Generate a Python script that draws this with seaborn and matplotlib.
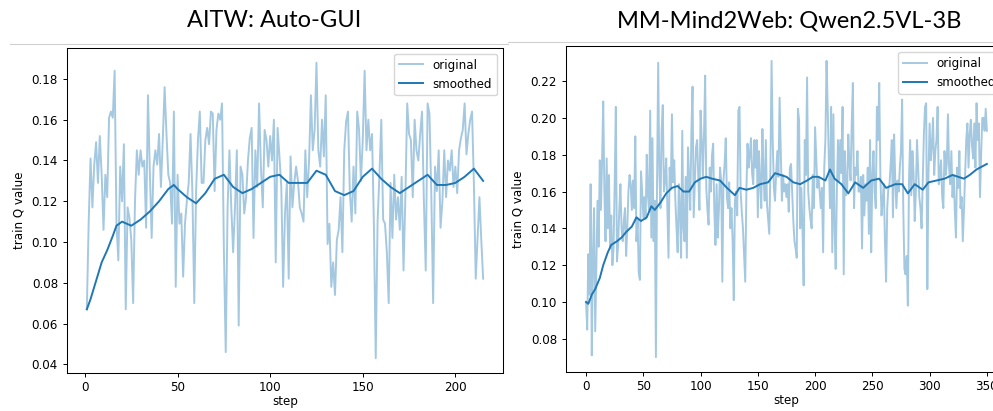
import seaborn as sns
import pandas as pd
import numpy as np
import matplotlib
matplotlib.use("Agg")
from matplotlib import pyplot as plt
from matplotlib.lines import Line2D

# AITW: Auto-GUI, steps 1..215
aitw_original = [
    0.067, 0.110, 0.141, 0.117, 0.138, 0.149, 0.129, 0.152, 0.133, 0.106,
    0.133, 0.122, 0.161, 0.164, 0.161, 0.184, 0.109, 0.091, 0.137, 0.120,
    0.148, 0.067, 0.117, 0.112, 0.101, 0.070, 0.120, 0.145, 0.133, 0.145,
    0.137, 0.140, 0.107, 0.172, 0.135, 0.102, 0.137, 0.145, 0.138, 0.153,
    0.127, 0.150, 0.176, 0.153, 0.133, 0.129, 0.109, 0.164, 0.078, 0.133,
    0.109, 0.114, 0.083, 0.109, 0.120, 0.129, 0.153, 0.124, 0.070, 0.125,
    0.150, 0.164, 0.129, 0.129, 0.150, 0.156, 0.148, 0.164, 0.163, 0.125,
    0.155, 0.163, 0.160, 0.168, 0.096, 0.046, 0.117, 0.145, 0.117, 0.095,
    0.117, 0.145, 0.059, 0.137, 0.133, 0.114, 0.122, 0.140, 0.151, 0.156,
    0.102, 0.145, 0.127, 0.168, 0.137, 0.117, 0.155, 0.150, 0.137, 0.152,
    0.140, 0.160, 0.090, 0.156, 0.142, 0.127, 0.078, 0.114, 0.129, 0.082,
    0.142, 0.117, 0.129, 0.137, 0.130, 0.117, 0.114, 0.110, 0.145, 0.122,
    0.140, 0.172, 0.145, 0.155, 0.188, 0.145, 0.137, 0.160, 0.142, 0.172,
    0.099, 0.109, 0.078, 0.090, 0.074, 0.101, 0.106, 0.122, 0.095, 0.145,
    0.159, 0.164, 0.125, 0.110, 0.137, 0.114, 0.164, 0.155, 0.130, 0.150,
    0.184, 0.145, 0.160, 0.145, 0.153, 0.109, 0.043, 0.110, 0.133, 0.160,
    0.111, 0.109, 0.095, 0.070, 0.129, 0.102, 0.133, 0.111, 0.122, 0.106,
    0.132, 0.086, 0.122, 0.168, 0.153, 0.150, 0.122, 0.160, 0.145, 0.140,
    0.153, 0.164, 0.120, 0.086, 0.168, 0.163, 0.124, 0.070, 0.137, 0.125,
    0.145, 0.107, 0.120, 0.145, 0.122, 0.140, 0.135, 0.145, 0.127, 0.137,
    0.124, 0.145, 0.151, 0.155, 0.168, 0.143, 0.153, 0.160, 0.164, 0.129,
    0.082, 0.102, 0.122, 0.101, 0.082,
]
aitw_smooth_steps = [1, 3, 5, 7, 9, 12, 15, 17, 20, 25, 30, 35, 40, 45, 48, 50,
                     55, 60, 65, 70, 75, 80, 85, 90, 95, 100, 105, 110, 115,
                     120, 125, 130, 135, 140, 145, 150, 155, 160, 165, 170,
                     175, 180, 185, 190, 195, 200, 205, 210, 215]
aitw_smoothed = [0.067, 0.072, 0.078, 0.084, 0.090, 0.096, 0.103, 0.108, 0.110,
                 0.108, 0.111, 0.115, 0.120, 0.126, 0.128, 0.126, 0.122, 0.119,
                 0.124, 0.131, 0.133, 0.127, 0.124, 0.126, 0.129, 0.132, 0.133,
                 0.129, 0.129, 0.129, 0.135, 0.133, 0.125, 0.123, 0.125, 0.132,
                 0.136, 0.131, 0.127, 0.124, 0.127, 0.130, 0.133, 0.128, 0.128,
                 0.129, 0.132, 0.136, 0.130]

# MM-Mind2Web: Qwen2.5VL-3B, steps 0..350
m2w_original = [
    0.100, 0.085, 0.126, 0.104, 0.164, 0.071, 0.126, 0.151, 0.084, 0.120,
    0.155, 0.130, 0.177, 0.150, 0.177, 0.209, 0.160, 0.133, 0.178, 0.140,
    0.169, 0.129, 0.147, 0.120, 0.129, 0.164, 0.206, 0.122, 0.131, 0.150,
    0.164, 0.140, 0.133, 0.144, 0.151, 0.125, 0.140, 0.160, 0.169, 0.164,
    0.150, 0.166, 0.151, 0.190, 0.133, 0.145, 0.116, 0.112, 0.171, 0.160,
    0.146, 0.157, 0.145, 0.180, 0.158, 0.150, 0.204, 0.135, 0.189, 0.133,
    0.155, 0.070, 0.166, 0.230, 0.170, 0.151, 0.193, 0.207, 0.160, 0.166,
    0.178, 0.150, 0.124, 0.173, 0.162, 0.202, 0.165, 0.177, 0.155, 0.140,
    0.127, 0.164, 0.150, 0.124, 0.193, 0.140, 0.133, 0.168, 0.124, 0.184,
    0.166, 0.150, 0.193, 0.217, 0.146, 0.165, 0.184, 0.188, 0.168, 0.150,
    0.204, 0.188, 0.168, 0.191, 0.223, 0.162, 0.150, 0.142, 0.173, 0.160,
    0.180, 0.186, 0.150, 0.131, 0.164, 0.135, 0.150, 0.173, 0.166, 0.111,
    0.166, 0.175, 0.189, 0.157, 0.151, 0.165, 0.140, 0.151, 0.133, 0.101,
    0.155, 0.160, 0.147, 0.204, 0.206, 0.160, 0.149, 0.140, 0.125, 0.111,
    0.160, 0.186, 0.173, 0.180, 0.189, 0.170, 0.164, 0.188, 0.173, 0.188,
    0.146, 0.182, 0.165, 0.151, 0.194, 0.169, 0.155, 0.188, 0.153, 0.145,
    0.137, 0.173, 0.231, 0.188, 0.162, 0.155, 0.170, 0.182, 0.168, 0.211,
    0.182, 0.155, 0.169, 0.160, 0.164, 0.157, 0.164, 0.149, 0.173, 0.175,
    0.160, 0.144, 0.133, 0.129, 0.124, 0.205, 0.199, 0.140, 0.162, 0.140,
    0.109, 0.188, 0.169, 0.222, 0.160, 0.151, 0.145, 0.140, 0.169, 0.151,
    0.195, 0.178, 0.162, 0.168, 0.160, 0.151, 0.162, 0.127, 0.173, 0.188,
    0.231, 0.206, 0.177, 0.151, 0.206, 0.127, 0.202, 0.140, 0.118, 0.160,
    0.188, 0.166, 0.188, 0.170, 0.206, 0.115, 0.182, 0.158, 0.160, 0.191,
    0.175, 0.166, 0.197, 0.219, 0.151, 0.173, 0.169, 0.182, 0.160, 0.160,
    0.168, 0.129, 0.169, 0.147, 0.164, 0.155, 0.173, 0.137, 0.188, 0.127,
    0.169, 0.182, 0.160, 0.151, 0.206, 0.188, 0.219, 0.169, 0.147, 0.155,
    0.164, 0.133, 0.111, 0.151, 0.162, 0.164, 0.175, 0.188, 0.146, 0.191,
    0.166, 0.151, 0.166, 0.160, 0.173, 0.182, 0.210, 0.151, 0.118, 0.115,
    0.125, 0.098, 0.166, 0.188, 0.158, 0.182, 0.170, 0.144, 0.160, 0.188,
    0.173, 0.157, 0.151, 0.140, 0.165, 0.191, 0.206, 0.208, 0.107, 0.169,
    0.197, 0.177, 0.185, 0.200, 0.169, 0.182, 0.188, 0.206, 0.164, 0.170,
    0.177, 0.157, 0.151, 0.182, 0.169, 0.175, 0.202, 0.173, 0.164, 0.182,
    0.157, 0.169, 0.150, 0.135, 0.173, 0.162, 0.182, 0.151, 0.157, 0.133,
    0.150, 0.169, 0.188, 0.197, 0.173, 0.191, 0.199, 0.185, 0.178, 0.197,
    0.173, 0.208, 0.188, 0.197, 0.157, 0.180, 0.200, 0.200, 0.193, 0.205,
    0.193,
]
m2w_smooth_steps = [0, 2, 5, 8, 12, 15, 19, 22, 27, 31, 35, 40, 44, 48, 53, 57,
                    60, 65, 70, 75, 80, 85, 90, 95, 100, 105, 110, 117, 123,
                    130, 134, 140, 146, 152, 159, 165, 170, 175, 181, 187, 193,
                    198, 203, 209, 213, 217, 223, 229, 235, 242, 249, 256, 262,
                    270, 276, 281, 287, 294, 299, 306, 313, 320, 325, 330, 335,
                    341, 350]
m2w_smoothed = [0.100, 0.099, 0.104, 0.107, 0.113, 0.120, 0.127, 0.131, 0.133,
                0.135, 0.138, 0.141, 0.146, 0.144, 0.146, 0.152, 0.150, 0.154,
                0.159, 0.162, 0.163, 0.160, 0.160, 0.165, 0.167, 0.168, 0.167,
                0.166, 0.162, 0.158, 0.162, 0.161, 0.162, 0.164, 0.165, 0.170,
                0.169, 0.168, 0.165, 0.164, 0.166, 0.168, 0.168, 0.166, 0.172,
                0.167, 0.164, 0.159, 0.165, 0.162, 0.166, 0.167, 0.162, 0.164,
                0.164, 0.159, 0.164, 0.161, 0.165, 0.166, 0.167, 0.169, 0.168,
                0.167, 0.169, 0.172, 0.175]

titles = ["AITW: Auto-GUI", "MM-Mind2Web: Qwen2.5VL-3B"]

fs = 8.6
plt.rcParams.update({
    "font.size": fs,
    "axes.linewidth": 0.75,
    "xtick.major.size": 3,
    "ytick.major.size": 3,
    "xtick.major.width": 0.7,
    "ytick.major.width": 0.7,
    "xtick.major.pad": 3,
    "legend.fontsize": fs,
})

fig = plt.figure(figsize=(9.93, 4.11), dpi=100)
ax1 = fig.add_axes([0.0675, 0.0925, 0.439, 0.791])
ax2 = fig.add_axes([0.570, 0.0949, 0.444, 0.793])

panels = [
    (ax1, np.arange(1, len(aitw_original) + 1), aitw_original, aitw_smooth_steps, aitw_smoothed),
    (ax2, np.arange(len(m2w_original)), m2w_original, m2w_smooth_steps, m2w_smoothed),
]

for ax, steps, orig, s_steps, smooth in panels:
    df_o = pd.DataFrame({"step": steps, "value": orig})
    df_s = pd.DataFrame({"step": s_steps, "value": smooth})
    sns.lineplot(data=df_o, x="step", y="value", ax=ax, color="#1f77b4",
                 alpha=0.4, lw=1.4, label="original")
    sns.lineplot(data=df_s, x="step", y="value", ax=ax, color="#1f77b4",
                 lw=1.4, label="smoothed")
    ax.set_xlabel("step", labelpad=0.5)
    ax.set_ylabel("train Q value")
    ax.legend(loc="upper right")

ax1.set_xticks([0, 50, 100, 150, 200])
ax2.set_xticks([0, 50, 100, 150, 200, 250, 300, 350])

# panel titles, drawn above the screenshots
fig.text(0.276, 0.95, titles[0], ha="center", va="center", fontsize=17,
         family="Lato")
fig.text(0.795, 0.95, titles[1], ha="center", va="center", fontsize=17,
         family="Lato")

# thin grey screenshot edges
fig.add_artist(Line2D([0.01, 0.512], [0.894, 0.894], color="#d0d0d0", lw=0.8))
fig.add_artist(Line2D([0.512, 1.0], [0.898, 0.898], color="#d0d0d0", lw=0.8))

fig.savefig("out.png", dpi=100)
